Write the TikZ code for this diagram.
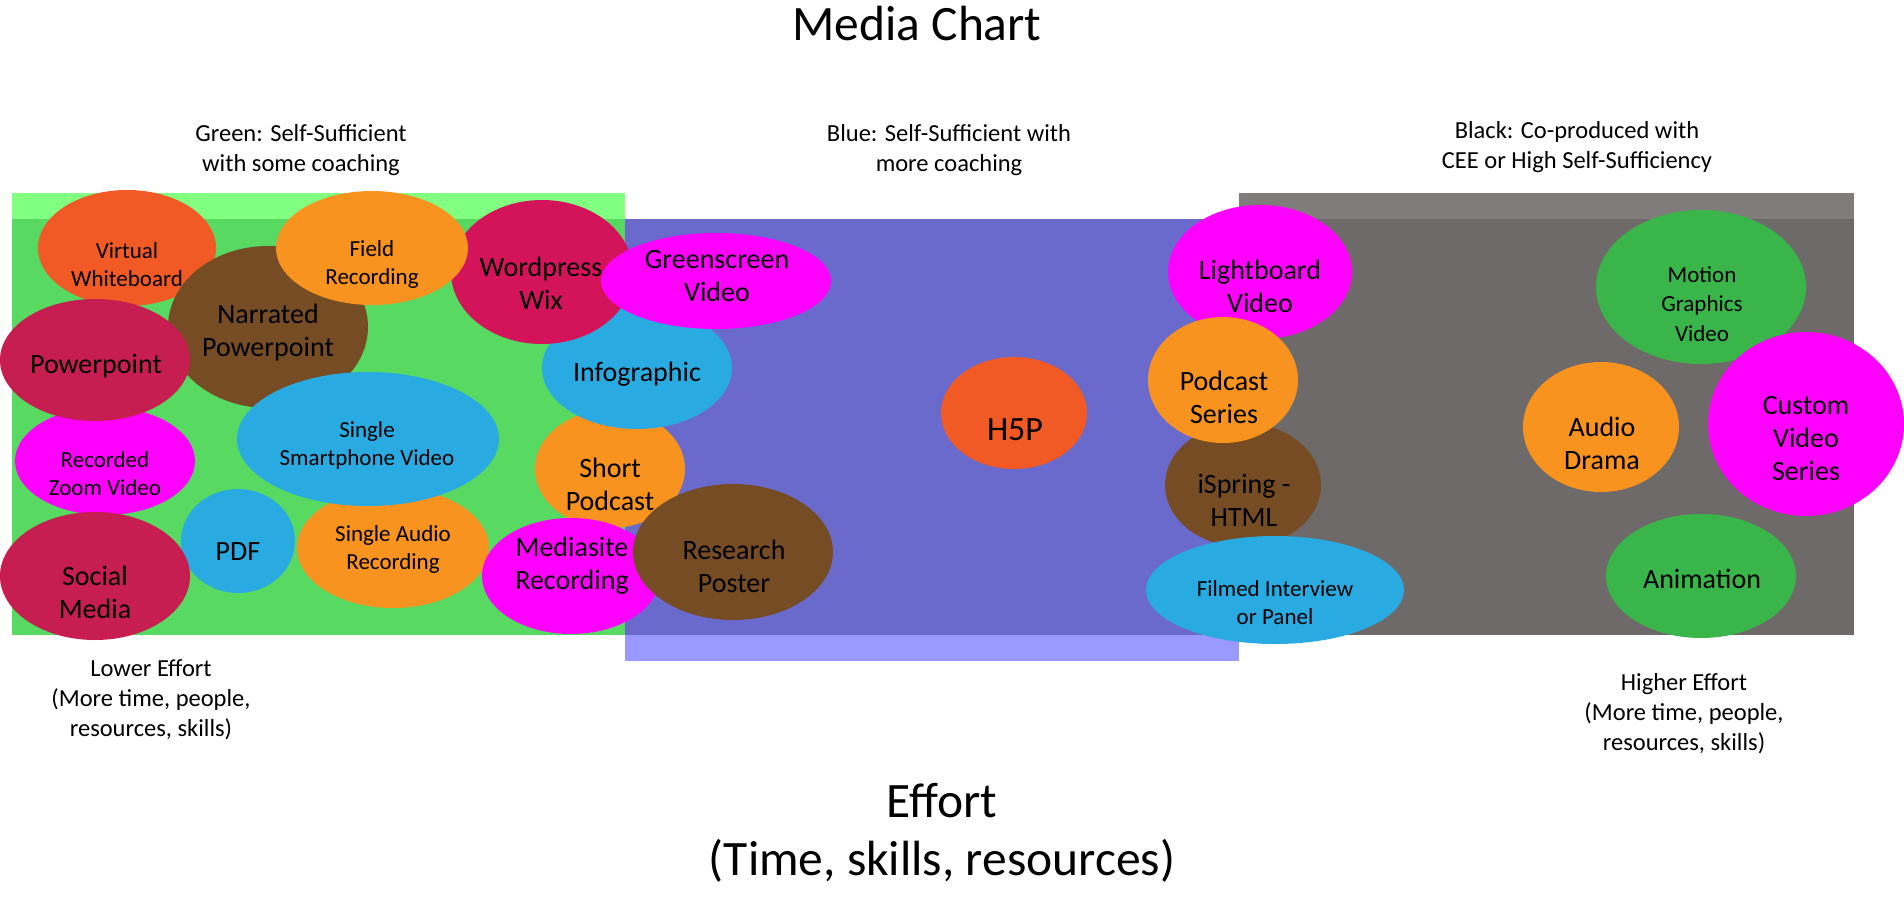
\documentclass[tikz,border=0pt]{standalone}
\usepackage{fontspec}
\setmainfont{Carlito}
\usetikzlibrary{shapes.geometric}
\definecolor{cOrRed}{RGB}{241,90,36}
\definecolor{cOrange}{RGB}{247,147,30}
\definecolor{cBrown}{RGB}{117,76,36}
\definecolor{cCrimson}{RGB}{212,20,90}
\definecolor{cCrimsonB}{RGB}{198,30,80}
\definecolor{cMagenta}{RGB}{255,0,255}
\definecolor{cCyan}{RGB}{41,171,226}
\definecolor{cGreen}{RGB}{57,181,74}
\definecolor{bgGreenL}{RGB}{128,255,128}
\definecolor{bgGreen}{RGB}{87,217,98}
\definecolor{bgBlue}{RGB}{106,106,205}
\definecolor{bgBlueL}{RGB}{153,153,255}
\definecolor{bgGray}{RGB}{110,106,106}
\definecolor{bgGrayL}{RGB}{128,124,124}
\tikzset{
  blob/.style={ellipse, draw=none, inner sep=0pt, outer sep=0pt},
  lbl/.style={align=center, inner sep=0pt, text=black,
    execute at begin node=\strut, execute at end node=\strut},
  big/.style={lbl, font=\fontsize{28}{33}\selectfont},
  small/.style={lbl, font=\fontsize{23}{28}\selectfont},
  head/.style={lbl, font=\fontsize{24.5}{30}\selectfont},
}
\begin{document}
\begin{tikzpicture}[x=1pt,y=-1pt]
\useasboundingbox (0,0) rectangle (1904,907);
\fill[white] (0,0) rectangle (1904,907);
% backgrounds
\fill[bgGreenL] (12,193) rectangle (625,219);
\fill[bgGreen] (12,219) rectangle (625,635);
\fill[bgBlue] (625,219) rectangle (1239,635);
\fill[bgBlueL] (625,635) rectangle (1239,661);
\fill[bgGrayL] (1239,193) rectangle (1854,219);
\fill[bgGray] (1239,219) rectangle (1854,635);
% ellipses (bottom to top)
\node[blob, fill=cOrRed, minimum width=178pt, minimum height=116pt] (vwE) at (127,248) {};
\node[blob, fill=cBrown, minimum width=200pt, minimum height=162pt] (narE) at (268,327) {};
\node[blob, fill=cMagenta, minimum width=180pt, minimum height=108pt] (rzE) at (105,461) {};
\node[blob, fill=cCrimsonB, minimum width=190pt, minimum height=122pt] (ppE) at (95,360) {};
\node[blob, fill=cCyan, minimum width=114pt, minimum height=104pt] (pdfE) at (238,541) {};
\node[blob, fill=cCrimsonB, minimum width=190pt, minimum height=128pt] (smE) at (95,576) {};
\node[blob, fill=cOrange, minimum width=192pt, minimum height=120pt] (saE) at (393,548) {};
\node[blob, fill=cCyan, minimum width=262pt, minimum height=134pt] (spE) at (368,439) {};
\node[blob, fill=cOrange, minimum width=150pt, minimum height=118pt] (shpE) at (610,469) {};
\node[blob, fill=cCyan, minimum width=190pt, minimum height=122pt] (infE) at (637,368) {};
\node[blob, fill=cCrimson, minimum width=182pt, minimum height=144pt] (wpE) at (542,272) {};
\node[blob, fill=cOrange, minimum width=192pt, minimum height=114pt] (frE) at (372,248) {};
\node[blob, fill=cMagenta, minimum width=230pt, minimum height=96pt] (gsE) at (716,281) {};
\node[blob, fill=cMagenta, minimum width=178pt, minimum height=116pt] (msE) at (571,576) {};
\node[blob, fill=cBrown, minimum width=200pt, minimum height=136pt] (rpE) at (733,552) {};
\node[blob, fill=cOrRed, minimum width=146pt, minimum height=112pt] (h5pE) at (1014,413) {};
\node[blob, fill=cMagenta, minimum width=184pt, minimum height=134pt] (lbE) at (1260,272) {};
\node[blob, fill=cBrown, minimum width=156pt, minimum height=124pt] (isE) at (1243,485) {};
\node[blob, fill=cOrange, minimum width=150pt, minimum height=126pt] (psE) at (1223,380) {};
\node[blob, fill=cCyan, minimum width=258pt, minimum height=108pt] (fiE) at (1275,590) {};
\node[blob, fill=cGreen, minimum width=210pt, minimum height=154pt] (mgE) at (1701,287) {};
\node[blob, fill=cMagenta, minimum width=196pt, minimum height=184pt] (cvE) at (1806,424) {};
\node[blob, fill=cOrange, minimum width=156pt, minimum height=130pt] (adE) at (1601,427) {};
\node[blob, fill=cGreen, minimum width=190pt, minimum height=124pt] (anE) at (1701,576) {};
% labels
\node[small] (vwT) at (127,269) {Virtual\\Whiteboard};
\node[small] (frT) at (372,267) {Field\\Recording};
\node[big] (narT) at (268,335) {Narrated\\Powerpoint};
\node[big] (wpT) at (541,288) {Wordpress\\Wix};
\node[big] (ppT) at (96,367) {Powerpoint};
\node[small] (spT) at (367,448) {Single\\Smartphone Video};
\node[small] (rzT) at (105,478) {Recorded\\Zoom Video};
\node[big] (pdfT) at (238,554) {PDF};
\node[small] (saT) at (393,552) {Single Audio\\Recording};
\node[big] (smT) at (95,597) {Social\\Media};
\node[big] (gsT) at (717,281) {Greenscreen\\Video};
\node[big] (infT) at (637,375) {Infographic};
\node[big] (shpT) at (610,489) {Short\\Podcast};
\node[big] (msT) at (572,568) {Mediasite\\Recording};
\node[big] (rpT) at (734,571) {Research\\Poster};
\node[lbl, font=\fontsize{34}{40}\selectfont] (h5pT) at (1015,432) {H5P};
\node[big] (lbT) at (1260,291) {Lightboard\\Video};
\node[big] (psT) at (1224,402) {Podcast\\Series};
\node[big] (isT) at (1244,505) {iSpring -\\HTML};
\node[small] (fiT) at (1275,607) {Filmed Interview\\or Panel};
\node[lbl, font=\fontsize{23}{29.5}\selectfont] (mgT) at (1702,308) {Motion\\Graphics\\Video};
\node[big] (adT) at (1602,448) {Audio\\Drama};
\node[big] (cvT) at (1806,443) {Custom\\Video\\Series};
\node[big] (anT) at (1702,582) {Animation};
% headings
\node[lbl, anchor=base, inner sep=0pt, font=\fontsize{49.5}{58}\selectfont, execute at begin node={}, execute at end node={}] (title) at (917,41) {Media Chart};
\node[head] (hGreen) at (301,152) {Green: Self-Sufficient\\with some coaching};
\node[head] (hBlue) at (949,152) {Blue: Self-Sufficient with\\more coaching};
\node[head] (hBlack) at (1577,149) {Black: Co-produced with\\CEE or High Self-Sufficiency};
\node[head] (lower) at (151,703) {Lower Effort\\(More time, people,\\resources, skills)};
\node[head] (higher) at (1684,716) {Higher Effort\\(More time, people,\\resources, skills)};
\node[lbl, font=\fontsize{49.5}{58}\selectfont] (effort) at (942,838) {Effort\\(Time, skills, resources)};
\end{tikzpicture}
\end{document}
